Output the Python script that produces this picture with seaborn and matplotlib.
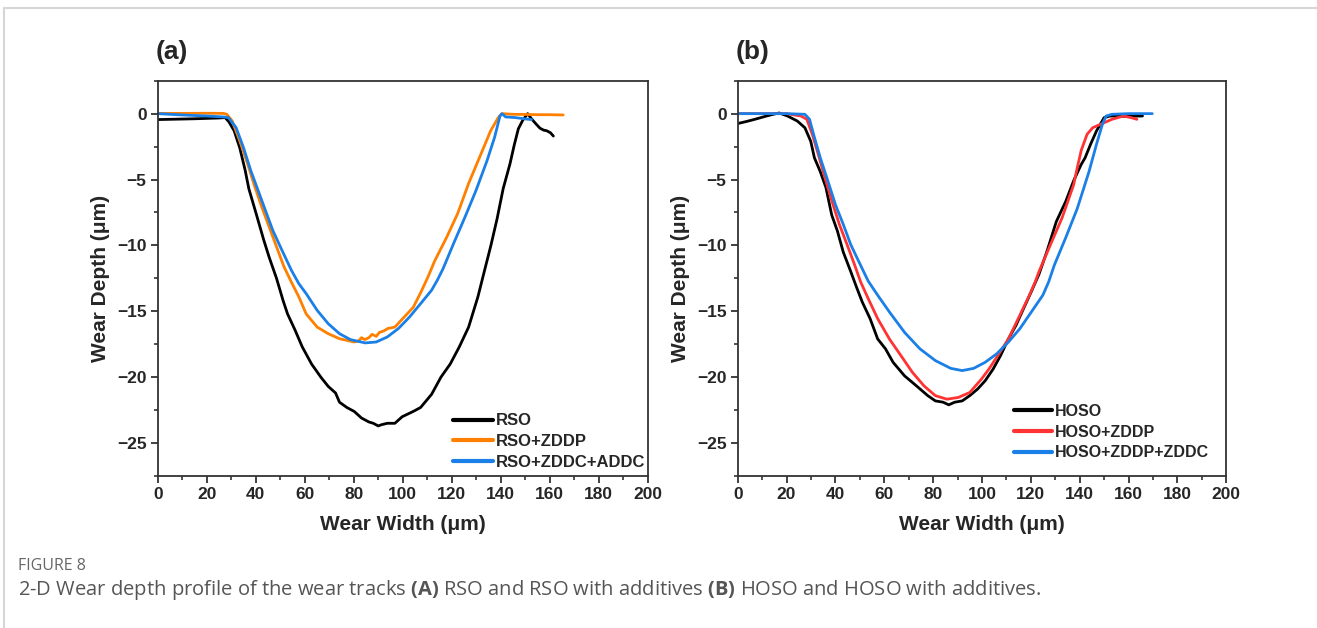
import numpy as np
import pandas as pd
import matplotlib
matplotlib.use("Agg")
import matplotlib.pyplot as plt
import seaborn as sns
from matplotlib.ticker import MultipleLocator
from matplotlib.lines import Line2D

# ---------------- data: panel (a) ----------------
rso_x = [0, 5, 10, 15, 20, 25, 27.5, 29, 31.2, 33.5, 35.7, 37.2, 40.2, 43.3, 45.5, 48.5,
         51.2, 53, 56, 59, 62.8, 66.6, 69.6, 72.6, 74.2, 77.2, 80.2, 83.2, 86.2, 88, 90,
         91.5, 93.7, 96.8, 99.8, 104.3, 107.3, 111.8, 115.6, 119.4, 123.1, 126.9, 130.7,
         133, 136, 138.5, 141, 143.8, 145.5, 147.2, 149, 151, 152.6, 154.5, 156, 157.5,
         158.8, 160.3, 161.5]
rso_y = [-0.45, -0.43, -0.41, -0.39, -0.36, -0.33, -0.3, -0.6, -1.3, -2.6, -4.3, -5.7,
         -7.6, -9.6, -10.9, -12.5, -14.2, -15.2, -16.4, -17.7, -19.0, -20.0, -20.7, -21.2,
         -21.9, -22.3, -22.6, -23.1, -23.4, -23.5, -23.7, -23.6, -23.5, -23.5, -23.0,
         -22.6, -22.3, -21.3, -20.0, -19.0, -17.7, -16.2, -13.9, -12.2, -10.0, -8.0,
         -5.7, -3.8, -2.4, -1.15, -0.5, 0.0, -0.4, -0.8, -1.1, -1.25, -1.3, -1.45, -1.7]

zddp_x = [0, 10, 20, 26.8, 28.2, 30.4, 33.5, 36.5, 39.5, 42.5, 45.5, 48.5, 51.5, 54.6,
          57.6, 60.6, 65.1, 69.6, 74.2, 80.2, 82, 83.2, 84.5, 86.2, 87.5, 89.2, 90.5,
          92.2, 94, 96.8, 99.8, 104.3, 107.3, 110.3, 113, 117.9, 122.4, 126.9, 131.4,
          135.9, 139, 140.5, 145, 150, 155, 160, 165.5]
zddp_y = [0.02, 0.02, 0.03, 0.02, -0.05, -0.55, -2.07, -3.7, -5.47, -7.1, -8.6, -10.1,
          -11.6, -12.8, -13.9, -15.2, -16.2, -16.7, -17.08, -17.33, -17.25, -17.0, -17.15,
          -17.0, -16.75, -16.9, -16.6, -16.5, -16.3, -16.2, -15.6, -14.7, -13.6, -12.4,
          -11.2, -9.4, -7.6, -5.3, -3.3, -1.3, -0.3, 0.0, -0.05, -0.06, -0.08, -0.08, -0.1]

zddc_addc_x = [0, 10, 20, 26.8, 28.9, 32, 35, 38, 41, 44, 47, 50.8, 54.6, 57.6, 60.6,
               65.1, 69.6, 74.2, 78.7, 84.7, 89.2, 93.7, 98.3, 102.8, 107.3, 111.8, 114.1,
               116.4, 120.9, 125.4, 129.9, 134.4, 137.5, 139.7, 140.5, 142, 146, 150, 152.6]
zddc_addc_y = [0.0, -0.1, -0.18, -0.25, -0.3, -1.06, -2.57, -4.33, -5.84, -7.36, -8.87,
               -10.4, -11.9, -12.9, -13.66, -14.93, -15.94, -16.7, -17.15, -17.4, -17.33,
               -16.95, -16.3, -15.43, -14.42, -13.4, -12.65, -11.8, -9.8, -7.86, -5.84,
               -3.58, -1.8, -0.18, 0.0, -0.25, -0.3, -0.4, -0.45]

# ---------------- data: panel (b) ----------------
hoso_x = [0, 3.5, 7, 11.8, 14.5, 17, 20.4, 24.4, 27.5, 29.9, 31.4, 33.8, 36.1, 38.5,
          40.8, 43.2, 46.3, 48.7, 51, 54.2, 57.3, 60.5, 63.6, 68.3, 73.1, 77.8, 80.9,
          84.1, 86.4, 88.8, 91.9, 95, 98.2, 101.3, 104.5, 107.6, 110.8, 113.9, 117,
          120.2, 123.3, 126.5, 130.4, 134.3, 137.5, 140.6, 142.2, 144.5, 146.9, 150,
          152.4, 158, 165.7]
hoso_y = [-0.75, -0.6, -0.43, -0.18, -0.05, 0.05, -0.18, -0.56, -1.07, -2.1, -3.35,
          -4.4, -5.6, -7.7, -8.9, -10.5, -12.0, -13.2, -14.3, -15.56, -17.1, -17.85,
          -18.87, -19.9, -20.65, -21.4, -21.8, -21.9, -22.1, -21.9, -21.8, -21.4, -20.9,
          -20.27, -19.4, -18.36, -17.1, -16.07, -14.8, -13.5, -12.2, -10.5, -8.2, -6.65,
          -5.1, -3.86, -3.35, -2.3, -1.3, -0.3, -0.18, -0.2, -0.18]

hzddp_x = [0, 10, 20, 25.9, 28.3, 30.6, 33, 35.3, 38.5, 41.6, 44.8, 47.9, 50.3, 53.4,
           57.3, 62.1, 66.8, 71.5, 76.2, 80.9, 85.6, 90.3, 95, 99.8, 102.9, 106, 110.8,
           115.5, 119.4, 121.8, 123.3, 128, 132.8, 137.5, 139, 140.6, 143, 145.3, 148.5,
           153.2, 157.9, 161, 163.4]
hzddp_y = [0, 0, 0, -0.18, -0.43, -1.6, -3.1, -4.6, -6.6, -8.4, -9.95, -11.5, -12.76,
           -14.03, -15.56, -17.1, -18.36, -19.63, -20.65, -21.4, -21.67, -21.54, -21.16,
           -20.14, -19.37, -18.49, -17.1, -15.3, -13.78, -12.76, -12.0, -9.95, -7.9,
           -5.4, -4.1, -2.8, -1.57, -1.07, -0.81, -0.43, -0.18, -0.3, -0.43]

hzddc_x = [0, 10, 20, 27.5, 29.4, 31.4, 33.8, 36.9, 40, 43.2, 46.3, 49.5, 53.4, 57.3,
           62.1, 68.3, 74.6, 80.9, 87.2, 91.9, 96.6, 101.3, 106, 110.8, 115.5, 120.2,
           124.9, 127.3, 129.6, 134.3, 139, 143.8, 146.9, 149.3, 150.8, 153.2, 160, 169.7]
hzddc_y = [0, 0, 0, -0.05, -0.43, -1.8, -3.35, -5.1, -6.9, -8.4, -9.95, -11.2, -12.7,
           -13.78, -15.05, -16.6, -17.85, -18.74, -19.33, -19.5, -19.33, -18.87, -18.23,
           -17.34, -16.32, -15.05, -13.78, -12.76, -11.5, -9.4, -7.2, -4.4, -2.3, -0.8,
           -0.18, -0.05, 0.0, 0.0]

labels_a = ["RSO", "RSO+ZDDP", "RSO+ZDDC+ADDC"]
labels_b = ["HOSO", "HOSO+ZDDP", "HOSO+ZDDP+ZDDC"]
colors_a = ["#000000", "#ff8000", "#1a7fe6"]
colors_b = ["#000000", "#ff3333", "#1a7fe6"]

x_ticks = [0, 20, 40, 60, 80, 100, 120, 140, 160, 180, 200]
y_ticks = [0, -5, -10, -15, -20, -25]


def frame(xs, ys, labels):
    parts = []
    for x, y, lab in zip(xs, ys, labels):
        parts.append(pd.DataFrame({"width": x, "depth": y, "series": lab}))
    return pd.concat(parts, ignore_index=True)


df_a = frame([rso_x, zddp_x, zddc_addc_x], [rso_y, zddp_y, zddc_addc_y], labels_a)
df_b = frame([hoso_x, hzddp_x, hzddc_x], [hoso_y, hzddp_y, hzddc_y], labels_b)

sns.set_style("white")
plt.rcParams["font.family"] = ["Liberation Sans", "DejaVu Sans"]
plt.rcParams["mathtext.fontset"] = "custom"
plt.rcParams["mathtext.rm"] = "Open Sans"
plt.rcParams["mathtext.bf"] = "Open Sans:bold"

W, H = 1317, 628
fig = plt.figure(figsize=(W / 100, H / 100), dpi=100)
fig.patch.set_facecolor("white")

ax_a = fig.add_axes([157.7 / W, 1 - 476 / H, 490 / W, 395.3 / H])
ax_b = fig.add_axes([737.7 / W, 1 - 476 / H, 488.6 / W, 395.3 / H])

spine_col = "#333333"
for ax, df, labels, colors, tag, leg_anchor, leg_size in [
    (ax_a, df_a, labels_a, colors_a, "(a)", (0.995, 0.015), 12),
    (ax_b, df_b, labels_b, colors_b, "(b)", (0.965, 0.04), 11.5),
]:
    sns.lineplot(data=df, x="width", y="depth", hue="series", hue_order=labels,
                 palette=colors, sort=False, estimator=None, linewidth=2.0, ax=ax)
    ax.set_xlim(0, 200)
    ax.set_ylim(-27.5, 2.5)
    ax.set_xticks(x_ticks)
    ax.set_yticks(y_ticks)
    ax.xaxis.set_minor_locator(MultipleLocator(10))
    ax.yaxis.set_minor_locator(MultipleLocator(2.5))
    ax.tick_params(axis="both", which="major", direction="out", length=5, width=1.3,
                   color=spine_col, labelsize=12.5, pad=3, top=False, right=False,
                   bottom=True, left=True)
    ax.tick_params(axis="both", which="minor", direction="out", length=3, width=1.2,
                   color=spine_col, top=False, right=False, bottom=True, left=True)
    for lab in ax.get_xticklabels() + ax.get_yticklabels():
        lab.set_fontweight("bold")
    for s in ax.spines.values():
        s.set_color(spine_col)
        s.set_linewidth(1.3)
        s.set_visible(True)
    ax.set_xlabel("Wear Width (\u03bcm)", fontsize=15, fontweight="bold", labelpad=9)
    ax.set_ylabel("Wear Depth (\u03bcm)", fontsize=15, fontweight="bold", labelpad=5)
    ax.text(-0.005, 1.073, tag, transform=ax.transAxes, fontsize=19, fontweight="bold",
            ha="left", va="center")
    handles, labs = ax.get_legend_handles_labels()
    leg = ax.legend(handles, labs, loc="lower right", bbox_to_anchor=leg_anchor,
                    frameon=False, handlelength=2.4, handletextpad=0.2,
                    labelspacing=0.35, borderpad=0, borderaxespad=0,
                    prop={"weight": "bold", "size": leg_size})
    for h in leg.get_lines():
        h.set_linewidth(3.0)

# light border of the figure panel
fig.add_artist(Line2D([4 / W, 1.0], [1 - 8 / H, 1 - 8 / H], transform=fig.transFigure,
                      color="#d6d6d6", linewidth=1.5))
fig.add_artist(Line2D([4 / W, 4 / W], [1 - 8 / H, 0.0], transform=fig.transFigure,
                      color="#d6d6d6", linewidth=1.5))

# caption
fig.text(18 / W, 1 - 566 / H, "FIGURE 8", fontsize=11.5, color="#666666",
         family=["Open Sans", "DejaVu Sans"], va="center", ha="left")
caption = ("2-D Wear depth profile of the wear tracks $\\mathbf{(A)}$ RSO and RSO with "
           "additives $\\mathbf{(B)}$ HOSO and HOSO with additives.")
fig.text(18 / W, 1 - 590 / H, caption, fontsize=14.5, color="#555555",
         family=["Open Sans", "DejaVu Sans"], va="center", ha="left")

fig.savefig("out.png", dpi=100, facecolor="white")
